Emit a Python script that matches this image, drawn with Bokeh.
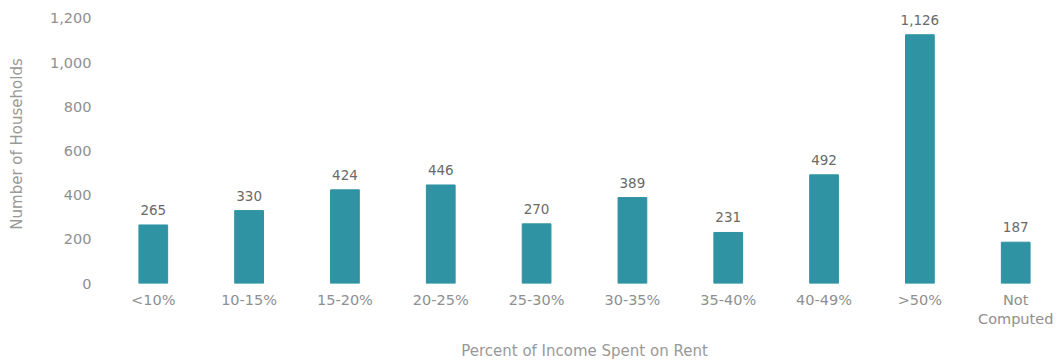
from bokeh.plotting import figure
from bokeh.models import FactorRange, Range1d, ColumnDataSource, LabelSet, NumeralTickFormatter
from bokeh.core.properties import value
from bokeh.embed import file_html
from bokeh.resources import INLINE

categories = ["<10%", "10-15%", "15-20%", "20-25%", "25-30%", "30-35%", "35-40%", "40-49%", ">50%", "Not\nComputed"]
households = [265, 330, 424, 446, 270, 389, 231, 492, 1126, 187]
value_labels = [f"{v:,}" for v in households]
y_ticks = [0, 200, 400, 600, 800, 1000, 1200]

FONT = "DejaVu Sans"
BAR = "#2f93a3"

src = ColumnDataSource(dict(cat=categories, val=households, lab=value_labels))

# frame top sits above the 1,200 tick so that the label over the tallest bar is not clipped
p = figure(width=1058, height=362, output_backend="svg", toolbar_location=None,
           x_range=FactorRange(*categories, range_padding=-0.064, range_padding_units="absolute"),
           y_range=Range1d(0, 1263),
           min_border_left=111, min_border_right=1, min_border_top=4, min_border_bottom=78)
p.outline_line_color = None
p.grid.grid_line_color = None

p.vbar(x="cat", top="val", width=0.3, source=src, color=BAR)
p.add_layout(LabelSet(x="cat", y="val", text="lab", source=src, text_align="center",
                      text_baseline="bottom", y_offset=10, text_font=value(FONT),
                      text_font_size="13.5px", text_color="#6a6a6a"))

for ax in (p.xaxis[0], p.yaxis[0]):
    ax.axis_line_color = None
    ax.major_tick_line_color = None
    ax.minor_tick_line_color = None
    ax.major_tick_out = 0
    ax.major_tick_in = 0
    ax.major_label_text_font = FONT
    ax.major_label_text_color = "#8f8f8f"
    ax.major_label_text_font_size = "14.5px"
    ax.axis_label_text_font = FONT
    ax.axis_label_text_font_style = "normal"
    ax.axis_label_text_color = "#999999"
    ax.axis_label_text_font_size = "15px"

p.yaxis.ticker = y_ticks
p.yaxis.formatter = NumeralTickFormatter(format="0,0")
p.yaxis.axis_label = "Number of Households"
p.yaxis.major_label_standoff = 20
p.yaxis.axis_label_standoff = 21

p.xaxis.axis_label = "Percent of Income Spent on Rent"
p.xaxis.major_label_standoff = 8
p.xaxis.axis_label_standoff = 12

open("out.html", "w").write(file_html(p, INLINE))
